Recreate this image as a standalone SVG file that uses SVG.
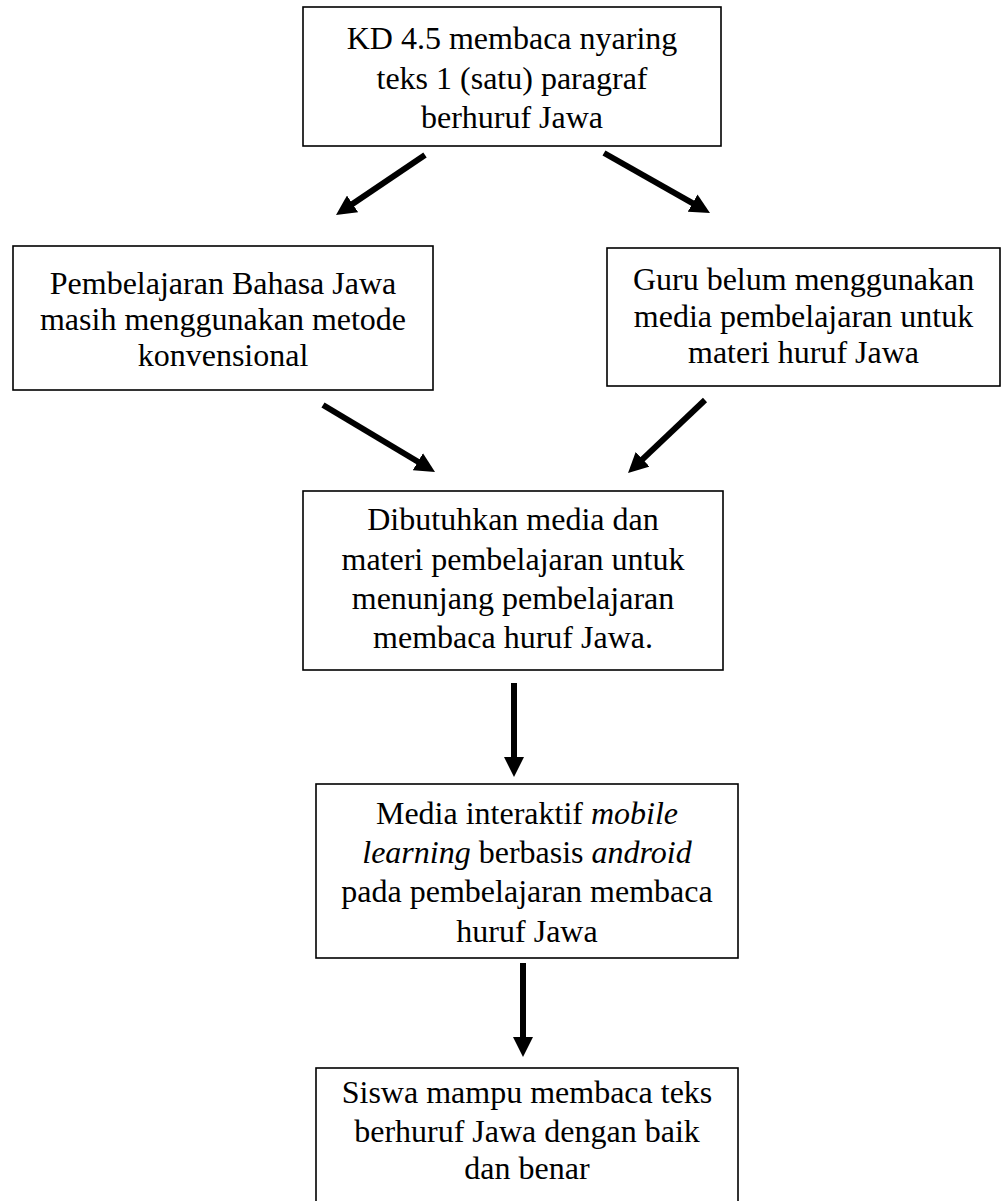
<svg xmlns="http://www.w3.org/2000/svg" width="1002" height="1201" viewBox="0 0 1002 1201">
<style>
.box{fill:#fff;stroke:#000;stroke-width:1.6}
.t{font-family:"Liberation Serif","Times New Roman",serif;font-size:32px;fill:#000;text-anchor:middle}
.i{font-style:italic}
.c{stroke:#000;stroke-width:6;fill:none;marker-end:url(#ah)}
</style>
<defs>
<marker id="ah" viewBox="0 0 20 20" markerWidth="20" markerHeight="20" refX="6" refY="10" orient="auto" markerUnits="userSpaceOnUse">
<path d="M0,0 L20,10 L0,20 z" fill="#000"/>
</marker>
</defs>
<rect width="1002" height="1201" fill="#fff"/>
<g id="n1">
<rect class="box" x="303" y="7" width="418" height="139"/>
<text class="t" x="512" y="49">KD 4.5 membaca nyaring</text>
<text class="t" x="512" y="89">teks 1 (satu) paragraf</text>
<text class="t" x="512" y="128">berhuruf Jawa</text>
</g>
<g id="n2">
<rect class="box" x="13" y="246" width="420" height="144"/>
<text class="t" x="223" y="294">Pembelajaran Bahasa Jawa</text>
<text class="t" x="223" y="330">masih menggunakan metode</text>
<text class="t" x="223" y="366">konvensional</text>
</g>
<g id="n3">
<rect class="box" x="607" y="248" width="393" height="138"/>
<text class="t" x="803.5" y="290">Guru belum menggunakan</text>
<text class="t" x="803.5" y="327">media pembelajaran untuk</text>
<text class="t" x="803.5" y="363">materi huruf Jawa</text>
</g>
<g id="n4">
<rect class="box" x="303" y="491" width="420" height="179"/>
<text class="t" x="513" y="530">Dibutuhkan media dan</text>
<text class="t" x="513" y="570">materi pembelajaran untuk</text>
<text class="t" x="513" y="609">menunjang pembelajaran</text>
<text class="t" x="513" y="648">membaca huruf Jawa.</text>
</g>
<g id="n5">
<rect class="box" x="316" y="784" width="422" height="174"/>
<text class="t" x="527" y="824">Media interaktif <tspan class="i">mobile</tspan></text>
<text class="t" x="527" y="863"><tspan class="i">learning</tspan> berbasis <tspan class="i">android</tspan></text>
<text class="t" x="527" y="902">pada pembelajaran membaca</text>
<text class="t" x="527" y="942">huruf Jawa</text>
</g>
<g id="n6">
<rect class="box" x="316" y="1068" width="422" height="150"/>
<text class="t" x="527" y="1103">Siswa mampu membaca teks</text>
<text class="t" x="527" y="1142">berhuruf Jawa dengan baik</text>
<text class="t" x="527" y="1179">dan benar</text>
</g>
<g id="connectors">
<line class="c" x1="425" y1="155" x2="347.6" y2="207.2"/>
<line class="c" x1="604" y1="153" x2="697.8" y2="206.1"/>
<line class="c" x1="323" y1="405" x2="423" y2="464.8"/>
<line class="c" x1="705" y1="400" x2="638.2" y2="463.4"/>
<line class="c" x1="514" y1="683" x2="514" y2="763"/>
<line class="c" x1="523" y1="963" x2="523" y2="1043"/>
</g>
</svg>
